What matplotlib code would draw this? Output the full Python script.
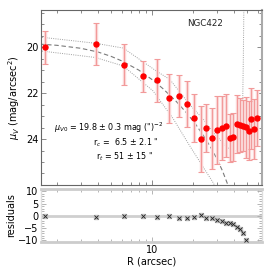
import numpy as np
import matplotlib
matplotlib.use('Agg')
import matplotlib.pyplot as plt
from matplotlib.ticker import MultipleLocator, LogLocator, NullFormatter, FixedLocator, FixedFormatter

# surface brightness profile
r = [1.65, 3.85, 6.22, 8.63, 10.97, 13.4, 15.8, 18.1, 20.5, 22.9, 25.2, 27.8, 30.2,
     32.5, 34.8, 37.3, 39.6, 42.0, 44.4, 46.9, 49.1, 51.7, 53.7, 56.5, 58.9]
mu = [20.0, 19.85, 20.75, 21.26, 21.44, 22.22, 22.12, 22.46, 23.07, 23.98, 23.51, 23.97, 23.6,
      23.51, 23.42, 23.94, 23.90, 23.35, 23.38, 23.41, 23.49, 23.63, 23.12, 23.56, 23.07]
err = [0.71, 0.91, 0.91, 0.67, 0.94, 1.06, 0.93, 1.0, 1.04, 1.44, 1.05, 1.33, 1.48,
       1.41, 1.37, 1.04, 1.04, 1.26, 1.19, 1.11, 1.33, 1.30, 1.33, 1.30, 1.22]
res = [0.0, -0.25, 0.15, 0.15, -0.3, 0.15, -0.65, -0.65, -0.4, 0.3, -0.8, -0.8, -1.75,
       -2.2, -2.7, -2.7, -3.4, -4.5, -5.4, -6.8, -9.9, np.nan, np.nan, np.nan, np.nan]

# King fit curve and bounds
fit_r = [1.5, 2, 3, 4, 5, 6, 8, 10, 12, 15, 18, 21, 24, 27, 30, 33, 36, 38]
fit_mu = [19.86, 19.91, 20.04, 20.20, 20.39, 20.59, 20.99, 21.40, 21.79, 22.34, 22.86,
          23.36, 23.86, 24.35, 24.85, 25.38, 25.96, 26.4]
up_r = [1.5, 3.83, 6.15, 10.83, 13.55, 19.0, 24.0, 28.2, 33.0, 37.0, 39.6, 42.0, 44.4, 45.5, 46.4, 47.0, 47.5]
up_mu = [19.55, 19.82, 20.03, 21.04, 21.4, 22.5, 23.15, 23.7, 24.15, 24.42, 24.5, 24.5, 24.3, 23.8, 22.8, 20.6, 18.0]
lo_r = [1.5, 3.83, 6.15, 10.2, 14.3, 19.0, 24.0, 28.2, 30.0]
lo_mu = [20.15, 20.44, 20.81, 21.9, 23.1, 24.3, 25.25, 25.9, 26.2]

fig = plt.figure(figsize=(2.7, 2.7), dpi=100)
ax = fig.add_axes([0.152, 0.315, 0.818, 0.648])
ax2 = fig.add_axes([0.152, 0.104, 0.818, 0.196], sharex=ax)

ax.plot(fit_r, fit_mu, color='#7a7a7a', lw=0.8, ls=(0, (4, 2.5)), zorder=2)
ax.plot(up_r, up_mu, color='#a0a0a0', lw=0.7, ls=(0, (1, 1.3)), zorder=2)
ax.plot(lo_r, lo_mu, color='#a0a0a0', lw=0.7, ls=(0, (1, 1.3)), zorder=2)

ax.errorbar(r, mu, yerr=err, fmt='none', ecolor='#fbdada', elinewidth=2.5, capsize=0, zorder=3)
ax.errorbar(r, mu, yerr=err, fmt='none', ecolor='#f29a9a', elinewidth=0.8,
            capsize=2, capthick=0.8, zorder=4)
ax.plot(r, mu, 'o', color='red', ms=3.6, mec='red', zorder=5)

ax.set_xscale('log')
ax.set_xlim(1.53, 64.4)
ax.set_ylim(26.0, 18.37)
ax.yaxis.set_major_locator(FixedLocator([20, 22, 24]))
ax.yaxis.set_minor_locator(MultipleLocator(0.5))
ax.tick_params(labelbottom=False)
ax.set_ylabel(r'$\mu_V$ (mag/arcsec$^2$)', fontsize=7, labelpad=3)

ax.text(0.742, 0.92, 'NGC422', transform=ax.transAxes, fontsize=6.3, ha='center', va='center', color='#222222')
ax.text(0.059, 0.326, r'$\mu_{V0}$ = 19.8 $\pm$ 0.3 mag (")$^{-2}$', transform=ax.transAxes,
        fontsize=5.8, ha='left', va='center')
ax.text(0.234, 0.24, r'r$_c$ =  6.5 $\pm$ 2.1 "', transform=ax.transAxes,
        fontsize=5.8, ha='left', va='center')
ax.text(0.249, 0.16, r'r$_t$ = 51 $\pm$ 15 "', transform=ax.transAxes,
        fontsize=5.8, ha='left', va='center')

# residuals
ax2.axhline(0, color='#cfcfcf', lw=2, zorder=1)
ax2.plot(r, res, 's', color='#c4c4c4', ms=3.4, mec='#c4c4c4', zorder=3)
ax2.plot(r, res, 'x', color='#222222', ms=2.3, mew=0.6, zorder=4)
ax2.set_ylim(-10.6, 11.0)
ax2.yaxis.set_major_locator(FixedLocator([-10, -5, 0, 5, 10]))
ax2.yaxis.set_minor_locator(MultipleLocator(1))
ax2.set_ylabel('residuals', fontsize=7, labelpad=1)
ax2.set_xlabel('R (arcsec)', fontsize=7, labelpad=1)

ax2.xaxis.set_major_locator(FixedLocator([10]))
ax2.xaxis.set_major_formatter(FixedFormatter(['10']))
ax2.xaxis.set_minor_locator(LogLocator(base=10, subs=np.arange(2, 10)))
ax2.xaxis.set_minor_formatter(NullFormatter())

for a in (ax, ax2):
    a.tick_params(which='both', direction='in', top=True, right=True, labelsize=7,
                  color='#777777', width=0.6, pad=2)
    a.tick_params(which='major', length=3.5)
    a.tick_params(which='minor', length=2)
    for s in a.spines.values():
        s.set_color('#666666')
        s.set_linewidth(0.8)
ax.spines['right'].set_color('#aaaaaa')
ax.spines['right'].set_linewidth(1.5)
for s in ('top', 'bottom'):
    ax2.spines[s].set_color('#cccccc')
    ax2.spines[s].set_linewidth(2)
for s in ('left', 'right'):
    ax2.spines[s].set_color('#dddddd')
    ax2.spines[s].set_linewidth(1)
ax2.tick_params(which='both', color='#aaaaaa')

fig.savefig('out.png', dpi=100)
